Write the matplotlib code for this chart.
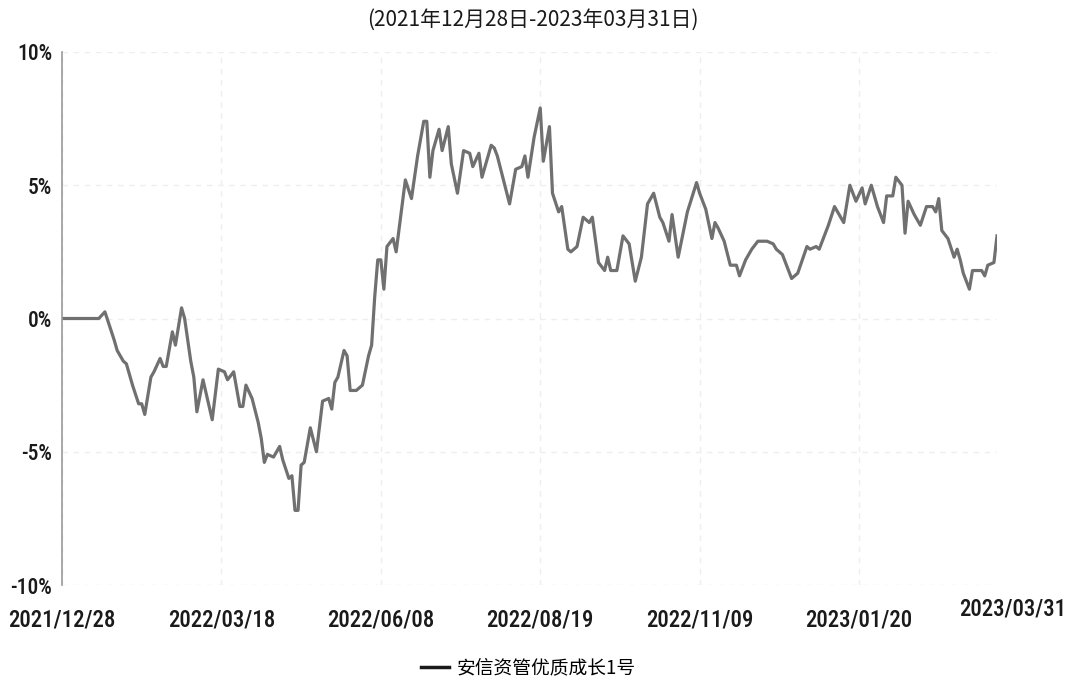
import matplotlib
matplotlib.use("Agg")
import matplotlib.pyplot as plt
from matplotlib import font_manager
import numpy as np

# trading days since 2021/12/28 and cumulative return (%)
days = [0, 12, 14, 17, 18, 20, 21, 23, 25, 26, 27, 29, 30, 32, 33, 34, 36, 37,
        39, 40, 42, 43, 44, 46, 49, 51, 53, 54, 56, 58, 59, 60, 62, 64, 65, 66,
        67, 69, 71, 72, 74, 75, 76, 77, 78, 79, 81, 83, 85, 87, 88, 89, 90, 92,
        93, 94, 96, 98, 100, 101, 102, 103, 104, 105, 106, 108, 109, 112, 114,
        116, 118, 119, 120, 121, 123, 124, 126, 127, 129, 131, 133, 134, 136,
        137, 140, 141, 142, 146, 148, 150, 151, 152, 154, 156, 157, 159, 160,
        162, 163, 165, 166, 168, 170, 172, 173, 175, 177, 178, 179, 181, 183,
        185, 187, 189, 191, 193, 195, 196, 198, 199, 201, 204, 207, 208, 210,
        212, 213, 214, 216, 218, 220, 221, 223, 225, 227, 230, 232, 233, 235,
        238, 240, 243, 244, 246, 247, 250, 252, 255, 257, 259, 261, 262, 264,
        266, 268, 269, 271, 272, 274, 275, 276, 278, 280, 282, 284, 285, 286,
        287, 289, 291, 292, 293, 294, 296, 297, 300, 301, 302, 304, 305]
returns = [0.0, 0.0, 0.25, -0.8, -1.2, -1.6, -1.7, -2.5, -3.2, -3.2, -3.6, -2.2,
           -2.0, -1.5, -1.8, -1.8, -0.5, -1.0, 0.4, 0.0, -1.6, -2.2, -3.5, -2.3,
           -3.8, -1.9, -2.0, -2.3, -2.0, -3.3, -3.3, -2.5, -3.0, -3.9, -4.5,
           -5.4, -5.1, -5.2, -4.8, -5.3, -6.0, -5.9, -7.2, -7.2, -5.5, -5.4,
           -4.1, -5.0, -3.1, -3.0, -3.4, -2.4, -2.2, -1.2, -1.4, -2.7, -2.7,
           -2.5, -1.4, -1.0, 0.8, 2.2, 2.2, 1.1, 2.7, 3.0, 2.5, 5.2, 4.5, 6.1,
           7.4, 7.4, 5.3, 6.3, 7.1, 6.3, 7.2, 5.8, 4.7, 6.3, 6.2, 5.7, 6.2, 5.3,
           6.5, 6.4, 6.1, 4.3, 5.6, 5.7, 6.1, 5.3, 6.8, 7.9, 5.9, 7.2, 4.7, 4.0,
           4.2, 2.6, 2.5, 2.7, 3.8, 3.6, 3.8, 2.1, 1.8, 2.3, 1.8, 1.8, 3.1, 2.8,
           1.4, 2.3, 4.3, 4.7, 3.8, 3.6, 2.9, 3.9, 2.3, 4.0, 5.1, 4.7, 4.1, 3.0,
           3.6, 3.4, 2.9, 2.0, 2.0, 1.6, 2.2, 2.6, 2.9, 2.9, 2.8, 2.6, 2.4, 1.5,
           1.7, 2.7, 2.6, 2.7, 2.6, 3.5, 4.2, 3.6, 5.0, 4.4, 4.9, 4.3, 5.0, 4.2,
           3.6, 4.6, 4.6, 5.3, 5.0, 3.2, 4.4, 3.9, 3.5, 4.2, 4.2, 4.0, 4.5, 3.3,
           3.0, 2.3, 2.6, 2.2, 1.7, 1.1, 1.8, 1.8, 1.6, 2.0, 2.1, 3.1]

tick_days = [0, 52, 104, 156, 208, 260]
tick_labels = ["2021/12/28", "2022/03/18", "2022/06/08", "2022/08/19",
               "2022/11/09", "2023/01/20"]
last_label = "2023/03/31"
y_ticks = [-10, -5, 0, 5, 10]
series_name = "安信资管优质成长1号"
title = "(2021年12月28日-2023年03月31日)"

names = {f.name for f in font_manager.fontManager.ttflist}
narrow = [n for n in ["Liberation Sans Narrow", "Arial Narrow", "Roboto Condensed"] if n in names]
latin = narrow[0] if narrow else "DejaVu Sans"
plt.rcParams['font.family'] = [latin, "Noto Sans CJK SC", "DejaVu Sans"]
plt.rcParams['font.stretch'] = 'condensed'
txt = '#1a1a1a'

fig = plt.figure(figsize=(10.7, 6.84), dpi=100)
ax = fig.add_axes([62 / 1070, 1 - 585 / 684, 935 / 1070, 533 / 684])

ax.plot(days, returns, color='#707070', lw=2.3, label=series_name)

ax.set_xlim(0, 305)
ax.set_ylim(-10, 10)
ax.set_yticks(y_ticks)
ax.set_yticklabels([f"{v}%" for v in y_ticks], fontsize=15.5, stretch='condensed',
                   weight='medium')
ax.set_xticks(tick_days)
ax.set_xticklabels(tick_labels, fontsize=16.5, stretch='condensed', weight='medium')
ax.tick_params(length=0, colors=txt)
ax.tick_params(axis='x', pad=17)
ax.tick_params(axis='y', pad=7)

for s in ['top', 'right', 'bottom']:
    ax.spines[s].set_visible(False)
ax.spines['left'].set_color('#9a9a9a')
ax.spines['left'].set_linewidth(1.2)

ax.grid(True, color='#eeeeee', linestyle=(0, (4, 4)), linewidth=1.0)
ax.set_axisbelow(True)

fig.text(1013 / 1070, 1 - 609 / 684, last_label, ha='center', va='center',
         fontsize=16.5, stretch='condensed', weight='medium', color=txt)
fig.text(533 / 1070, 1 - 20 / 684, title, ha='center', va='center',
         fontsize=15, color=txt, family=["Noto Sans CJK SC", "DejaVu Sans"])

leg = fig.legend(loc='center', bbox_to_anchor=(528 / 1070, 1 - 668 / 684),
                 frameon=False, handlelength=1.5, handletextpad=0.4,
                 prop={'family': ["Noto Sans CJK SC", "DejaVu Sans"], 'size': 13.5,
                       'weight': 'medium'})
for h in leg.get_lines():
    h.set_color(txt)
    h.set_linewidth(2.5)

fig.savefig("out.png", dpi=100)
